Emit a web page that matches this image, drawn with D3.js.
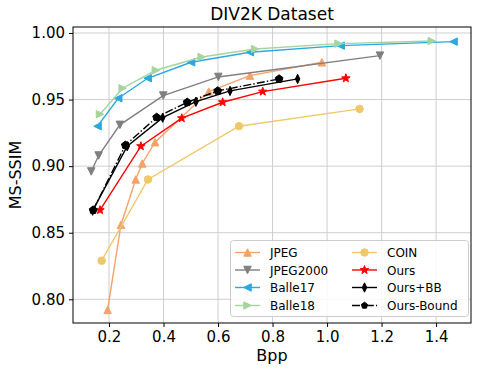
<!DOCTYPE html>
<html><head><meta charset="utf-8">
<script src="https://cdn.jsdelivr.net/npm/d3@7"></script>
<style>body{margin:0;background:#fff}svg{display:block;font-family:"DejaVu Sans",sans-serif}</style>
</head><body><svg id="c" width="479" height="376"></svg>
<script>
const title = "DIV2K Dataset";
const xLabel = "Bpp";
const yLabel = "MS-SSIM";
const xTicks = [0.2, 0.4, 0.6, 0.8, 1.0, 1.2, 1.4];
const yTicks = [0.80, 0.85, 0.90, 0.95, 1.00];

const jpeg = [[0.195,0.792],[0.244,0.856],[0.298,0.890],[0.322,0.902],[0.369,0.918],[0.566,0.956],[0.717,0.968],[0.981,0.978]];
const jpeg2000 = [[0.135,0.896],[0.162,0.908],[0.240,0.931],[0.399,0.953],[0.601,0.967],[1.194,0.983]];
const balle17 = [[0.158,0.930],[0.234,0.951],[0.342,0.966],[0.501,0.978],[0.717,0.9855],[1.050,0.9905],[1.464,0.9935]];
const balle18 = [[0.167,0.939],[0.250,0.9585],[0.372,0.972],[0.540,0.982],[0.736,0.988],[1.042,0.992],[1.384,0.994]];
const coin = [[0.173,0.829],[0.343,0.890],[0.677,0.930],[1.119,0.943]];
const ours = [[0.167,0.867],[0.317,0.915],[0.467,0.936],[0.617,0.948],[0.764,0.956],[1.069,0.966]];
const oursBB = [[0.140,0.8666],[0.267,0.915],[0.397,0.9364],[0.519,0.9484],[0.644,0.9565],[0.892,0.9655]];
const oursBound = [[0.142,0.867],[0.260,0.9157],[0.375,0.9367],[0.487,0.948],[0.599,0.9565],[0.824,0.9655]];

const series = [
  {name:"JPEG", data:jpeg, color:"#f5a26a", marker:"tu", dash:null},
  {name:"JPEG2000", data:jpeg2000, color:"#7f7f7f", marker:"td", dash:null},
  {name:"Balle17", data:balle17, color:"#2aa8df", marker:"tl", dash:null},
  {name:"Balle18", data:balle18, color:"#a6d49e", marker:"tr", dash:null},
  {name:"COIN", data:coin, color:"#efc86a", marker:"o", dash:null},
  {name:"Ours", data:ours, color:"#ff0000", marker:"star", dash:null},
  {name:"Ours+BB", data:oursBB, color:"#000000", marker:"dia", dash:null},
  {name:"Ours-Bound", data:oursBound, color:"#000000", marker:"pent", dash:"8,2.2,1.4,2.2"}
];

const L=73, R=471, T=27, B=323;
const x = d3.scaleLinear().domain([0.068,1.528]).range([L,R]);
const y = d3.scaleLinear().domain([0.7822,1.0045]).range([B,T]);
const svg = d3.select("#c");

const g = svg.append("g");
g.selectAll("line.gx").data(xTicks).join("line").attr("x1",d=>x(d)).attr("x2",d=>x(d)).attr("y1",T).attr("y2",B).attr("stroke","#cfcfcf").attr("stroke-width",1);
g.selectAll("line.gy").data(yTicks).join("line").attr("y1",d=>y(d)).attr("y2",d=>y(d)).attr("x1",L).attr("x2",R).attr("stroke","#cfcfcf").attr("stroke-width",1);

const xa = svg.append("g").attr("transform",`translate(0,${B})`).call(d3.axisBottom(x).tickValues(xTicks).tickFormat(d3.format(".1f")).tickSize(4).tickPadding(4));
const ya = svg.append("g").attr("transform",`translate(${L},0)`).call(d3.axisLeft(y).tickValues(yTicks).tickFormat(d3.format(".2f")).tickSize(4).tickPadding(4));
[xa,ya].forEach(a=>{a.select(".domain").remove();a.selectAll("text").attr("font-size",15).attr("fill","#000").attr("font-family","DejaVu Sans");a.selectAll("line").attr("stroke","#000");});
svg.append("rect").attr("x",L).attr("y",T).attr("width",R-L).attr("height",B-T).attr("fill","none").attr("stroke","#000").attr("stroke-width",1);

function markerPath(type, s){
  const h=s/2;
  switch(type){
    case "tu": return `M0,${-h}L${h},${h}L${-h},${h}Z`;
    case "td": return `M0,${h}L${h},${-h}L${-h},${-h}Z`;
    case "tl": return `M${-h},0L${h},${-h}L${h},${h}Z`;
    case "tr": return `M${h},0L${-h},${-h}L${-h},${h}Z`;
    case "o": return d3.symbol(d3.symbolCircle, Math.PI*h*h)();
    case "star": { let p=""; for(let i=0;i<10;i++){const r=i%2?h*0.42:h*1.05; const a=-Math.PI/2+i*Math.PI/5; p+=(i?"L":"M")+(r*Math.cos(a)).toFixed(2)+","+(r*Math.sin(a)).toFixed(2);} return p+"Z"; }
    case "dia": return `M0,${-h*1.25}L${h*0.6},0L0,${h*1.25}L${-h*0.6},0Z`;
    case "pent": { let p=""; for(let i=0;i<5;i++){const a=-Math.PI/2+i*2*Math.PI/5; p+=(i?"L":"M")+(h*1.1*Math.cos(a)).toFixed(2)+","+(h*1.1*Math.sin(a)).toFixed(2);} return p+"Z"; }
  }
}

const line = d3.line().x(d=>x(d[0])).y(d=>y(d[1]));
const ms = 7.5;
series.forEach(s=>{
  const gg = svg.append("g");
  gg.append("path").attr("d",line(s.data)).attr("fill","none").attr("stroke",s.color).attr("stroke-width",1.4).attr("stroke-dasharray",s.dash);
  gg.selectAll("path.m").data(s.data).join("path").attr("class","m")
    .attr("transform",d=>`translate(${x(d[0])},${y(d[1])})`)
    .attr("d",markerPath(s.marker, s.marker==="star"?ms+1:ms)).attr("fill",s.color).attr("stroke",s.color).attr("stroke-width",1);
});

const lg = svg.append("g");
lg.append("rect").attr("x",230.5).attr("y",240.5).attr("width",238).attr("height",76).attr("rx",3)
  .attr("fill","#fff").attr("fill-opacity",0.85).attr("stroke","#cccccc").attr("stroke-width",1);
const rowY=[252.5,270,287.5,305.5];
series.forEach((s,i)=>{
  const col=Math.floor(i/4), row=i%4;
  const x0 = col? 352 : 235, ty=rowY[row];
  lg.append("line").attr("x1",x0).attr("x2",x0+25).attr("y1",ty).attr("y2",ty).attr("stroke",s.color).attr("stroke-width",1.4).attr("stroke-dasharray",s.dash);
  lg.append("path").attr("transform",`translate(${x0+12.5},${ty})`).attr("d",markerPath(s.marker, s.marker==="star"?ms+1:(s.marker==="pent"?6:ms))).attr("fill",s.color).attr("stroke",s.color).attr("stroke-width",1);
  lg.append("text").attr("x",x0+35).attr("y",ty+4.5).attr("font-size",12).text(s.name);
});

svg.append("text").attr("x",(L+R)/2).attr("y",20).attr("text-anchor","middle").attr("font-size",17).text(title);
svg.append("text").attr("x",(L+R)/2).attr("y",361).attr("text-anchor","middle").attr("font-size",16).text(xLabel);
svg.append("text").attr("transform","translate(21,175) rotate(-90)").attr("text-anchor","middle").attr("font-size",16).text(yLabel);
</script></body></html>
